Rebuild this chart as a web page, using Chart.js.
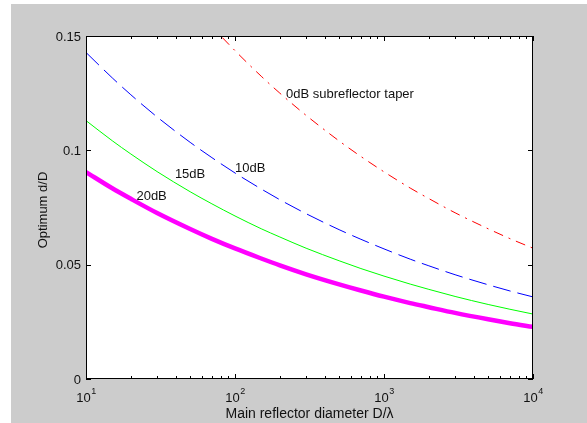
<!DOCTYPE html>
<html>
<head>
<meta charset="utf-8">
<title>Optimum d/D</title>
<script src="https://cdn.jsdelivr.net/npm/chart.js"></script>
<style>
  html, body { margin: 0; padding: 0; background: #fff; }
  canvas { display: block; }
</style>
</head>
<body>
<canvas id="taperChart" width="587" height="423"></canvas>
<script>
// main reflector diameter D/lambda
const dOverLambda = [10, 15, 20, 30, 50, 70, 100, 150, 200, 300, 500, 700, 1000, 1500, 2000, 3000, 5000, 7000, 10000];

// optimum d/D for each subreflector taper
const taper0 = [null, null, null, null, 0.1650, 0.1542, 0.1436, 0.1324, 0.1250, 0.1153, 0.1041, 0.0973, 0.0906, 0.0835, 0.0789, 0.0727, 0.0657, 0.0614, 0.0572];
const taper10 = [0.1428, 0.1317, 0.1243, 0.1146, 0.1035, 0.0968, 0.0901, 0.0831, 0.0784, 0.0723, 0.0653, 0.0611, 0.0569, 0.0524, 0.0495, 0.0456, 0.0412, 0.0385, 0.0359];
const taper15 = [0.1130, 0.1042, 0.0984, 0.0907, 0.0819, 0.0766, 0.0713, 0.0657, 0.0621, 0.0572, 0.0517, 0.0483, 0.0450, 0.0415, 0.0392, 0.0361, 0.0326, 0.0305, 0.0284];
const taper20 = [0.0905, 0.0834, 0.0788, 0.0726, 0.0656, 0.0613, 0.0571, 0.0527, 0.0497, 0.0458, 0.0414, 0.0387, 0.0360, 0.0332, 0.0314, 0.0289, 0.0261, 0.0244, 0.0228];

// axis ticks
const xTicks = [10, 100, 1000, 10000];
const xTickExp = ['1', '2', '3', '4'];
const yTicks = [0, 0.05, 0.1, 0.15];
const yTickLabels = ['0', '0.05', '0.1', '0.15'];

// curve labels (data coordinates)
const noteText = ['0dB subreflector taper', '10dB', '15dB', '20dB'];
const noteX = [220, 100, 39.5, 21.8];
const noteY = [0.1251, 0.0925, 0.0900, 0.0804];

const FONT = "'Liberation Sans', Arial, sans-serif";

function toPoints(values) {
    return dOverLambda.map((x, i) => ({ x: x, y: values[i] }));
}

// matlab style figure: grey frame, boxed axes, inward ticks
const matlabFrame = {
    id: 'matlabFrame',
    beforeDraw(chart) {
        const { ctx, chartArea: a, width, height } = chart;
        ctx.save();
        ctx.fillStyle = '#ffffff';
        ctx.fillRect(0, 0, width, height);
        ctx.fillStyle = '#cccccc';
        ctx.fillRect(11, 4, width - 11, height - 4);
        ctx.fillStyle = '#ffffff';
        ctx.fillRect(a.left, a.top, a.right - a.left, a.bottom - a.top);
        ctx.restore();
    },
    afterDraw(chart) {
        const { ctx, chartArea: a } = chart;
        const xs = chart.scales.x;
        const ys = chart.scales.y;
        ctx.save();
        ctx.strokeStyle = '#000';
        ctx.lineWidth = 1;
        ctx.strokeRect(a.left + 0.5, a.top + 0.5, a.right - a.left - 1, a.bottom - a.top - 1);

        ctx.beginPath();
        // x ticks, major + minor, top and bottom
        for (let dec = 10; dec < 10000; dec *= 10) {
            for (let k = 1; k <= 10; k++) {
                const px = Math.round(xs.getPixelForValue(k * dec)) + 0.5;
                const len = (k === 1 || k === 10) ? 5 : 3;
                ctx.moveTo(px, a.bottom);
                ctx.lineTo(px, a.bottom - len);
                ctx.moveTo(px, a.top);
                ctx.lineTo(px, a.top + len);
            }
        }
        // y ticks, left and right
        yTicks.forEach(v => {
            const py = Math.round(ys.getPixelForValue(v)) + 0.5;
            ctx.moveTo(a.left, py);
            ctx.lineTo(a.left + 5, py);
            ctx.moveTo(a.right, py);
            ctx.lineTo(a.right - 5, py);
        });
        ctx.stroke();

        ctx.fillStyle = '#111';
        // y tick labels
        ctx.font = '13px ' + FONT;
        ctx.textAlign = 'right';
        ctx.textBaseline = 'middle';
        yTicks.forEach((v, i) => {
            ctx.fillText(yTickLabels[i], a.left - 5, ys.getPixelForValue(v) + 1);
        });

        // x tick labels 10^n
        ctx.textBaseline = 'alphabetic';
        ctx.textAlign = 'left';
        xTicks.forEach((v, i) => {
            ctx.font = '13px ' + FONT;
            const wBase = ctx.measureText('10').width;
            ctx.font = '9px ' + FONT;
            const wExp = ctx.measureText(xTickExp[i]).width;
            const start = xs.getPixelForValue(v) - (wBase + wExp) / 2;
            ctx.font = '13px ' + FONT;
            ctx.fillText('10', start, 402);
            ctx.font = '9px ' + FONT;
            ctx.fillText(xTickExp[i], start + wBase + 0.5, 394);
        });

        // axis titles
        ctx.font = '14px ' + FONT;
        ctx.textAlign = 'center';
        ctx.textBaseline = 'middle';
        ctx.fillText('Main reflector diameter D/\u03BB', (a.left + a.right) / 2, 414);
        ctx.font = '13px ' + FONT;
        ctx.save();
        ctx.translate(43.5, 210);
        ctx.rotate(-Math.PI / 2);
        ctx.fillText('Optimum d/D', 0, 0);
        ctx.restore();

        // curve labels
        ctx.textAlign = 'left';
        noteText.forEach((t, i) => {
            ctx.fillText(t, xs.getPixelForValue(noteX[i]), ys.getPixelForValue(noteY[i]) + 1);
        });
        ctx.restore();
    }
};

const ctx = document.getElementById('taperChart').getContext('2d');
new Chart(ctx, {
    type: 'line',
    data: {
        datasets: [
            {
                label: '0dB',
                data: toPoints(taper0),
                borderColor: '#ff0000',
                borderWidth: 1,
                borderDash: [10, 6, 2, 6]
            },
            {
                label: '10dB',
                data: toPoints(taper10),
                borderColor: '#0000ff',
                borderWidth: 1,
                borderDash: [18, 7]
            },
            {
                label: '15dB',
                data: toPoints(taper15),
                borderColor: '#00ff00',
                borderWidth: 1
            },
            {
                label: '20dB',
                data: toPoints(taper20),
                borderColor: '#ff00ff',
                borderWidth: 4.5
            }
        ]
    },
    options: {
        responsive: false,
        animation: false,
        devicePixelRatio: 1,
        layout: { padding: { left: 0, top: 36, right: 54, bottom: 0 } },
        elements: {
            point: { radius: 0, hoverRadius: 0 },
            line: { cubicInterpolationMode: 'monotone', fill: false }
        },
        plugins: {
            legend: { display: false },
            tooltip: { enabled: false }
        },
        scales: {
            x: {
                type: 'logarithmic',
                min: 10,
                max: 10000,
                grid: { display: false },
                border: { display: false },
                ticks: { display: false },
                afterFit: function (scale) { scale.height = 44; }
            },
            y: {
                type: 'linear',
                min: 0,
                max: 0.15,
                grid: { display: false },
                border: { display: false },
                ticks: { display: false },
                afterFit: function (scale) { scale.width = 86; }
            }
        }
    },
    plugins: [matlabFrame]
});
</script>
</body>
</html>
